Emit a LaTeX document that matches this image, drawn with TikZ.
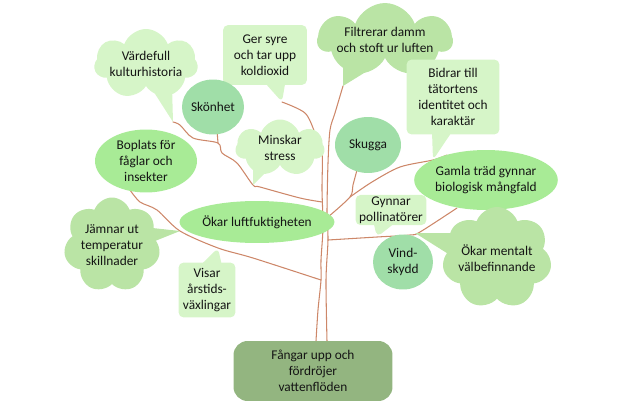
\documentclass[tikz,border=0pt]{standalone}
\usepackage{fontspec}
\setmainfont{Carlito}
\usepackage{tikz}
\usetikzlibrary{shapes.geometric,shapes.symbols,shapes.callouts,backgrounds,calc}

\definecolor{pale}{RGB}{214,245,200}
\definecolor{sage}{RGB}{186,228,165}
\definecolor{mint}{RGB}{160,222,168}
\definecolor{lime}{RGB}{168,235,150}
\definecolor{olive}{RGB}{147,181,128}
\definecolor{bark}{RGB}{205,135,105}
\definecolor{ink}{RGB}{20,20,20}

\begin{document}
\begin{tikzpicture}[x=0.02cm,y=-0.02cm,font=\fontsize{7.6}{9.1}\selectfont,text=ink,align=center]
	\tikzstyle{cloudbox}=[cloud,cloud puffs=7,cloud puff arc=140,cloud ignores aspect,fill=pale,draw=none,inner sep=0pt]
	\tikzstyle{notebox}=[rectangle callout,rounded corners=3pt,fill=pale,draw=none,callout pointer width=0.36cm,inner sep=1pt]
	\tikzstyle{disc}=[ellipse,fill=mint,draw=none,inner sep=0pt]
	\tikzstyle{oval}=[ellipse,fill=lime,draw=none,inner sep=0pt]
	\tikzstyle{limb}=[draw=bark,line width=0.6pt,line cap=round,line join=round]

	\useasboundingbox (0,0) rectangle (620,413);

	\coordinate (tv)  at (173,122);
	\coordinate (tg)  at (282,102);
	\coordinate (tm)  at (253,185);
	\coordinate (tf)  at (343,86);
	\coordinate (tb)  at (433,160);
	\coordinate (tp)  at (377,237);
	\coordinate (to)  at (415,233);
	\coordinate (tj)  at (180,231);
	\coordinate (tx)  at (218,248);

	\node[cloudbox,minimum width=1.82cm,minimum height=1.4cm]           (vard)  at (146,64)  {V\"ardefull\\kulturhistoria};
	\node[notebox,minimum width=1.68cm,minimum height=1.2cm,callout absolute pointer=(tg)] (ger) at (265,55) {Ger syre\\och tar upp\\koldioxid};
	\node[disc,minimum width=1.2cm,minimum height=1.1cm]                (skon)  at (213,107) {Sk\"onhet};
	\node[cloudbox,minimum width=1.78cm,minimum height=1.14cm]          (minsk) at (280,148) {Minskar\\stress};
	\node[oval,minimum width=2.04cm,minimum height=1.26cm]              (bopl)  at (146,161) {Boplats f\"or\\f\aa glar och\\insekter};
	\node[cloudbox,fill=sage,minimum width=2.6cm,minimum height=1.38cm] (filt)  at (385,40)  {Filtrerar damm\\och stoft ur luften};
	\node[notebox,minimum width=1.86cm,minimum height=1.5cm,callout absolute pointer=(tb)] (bidr) at (453,97) {Bidrar till\\t\"atortens\\identitet och\\karakt\"ar};
	\node[disc,minimum width=1.32cm,minimum height=1.12cm]              (skug)  at (368,145) {Skugga};
	\node[oval,minimum width=2.56cm,minimum height=1.2cm]               (gaml)  at (486,180) {Gamla tr\"ad gynnar\\biologisk m\aa ngfald};
	\node[notebox,minimum width=1.42cm,minimum height=0.58cm,callout absolute pointer=(tp)] (gynn) at (391,210) {Gynnar\\pollinat\"orer};
	\node[disc,minimum width=1.2cm,minimum height=1.1cm]                (vind)  at (403,262) {Vind-\\skydd};
	\node[cloudbox,fill=sage,minimum width=2.04cm,minimum height=2.04cm] (okm)  at (497,258) {\"Okar mentalt\\v\"albefinnande};
	\node[cloudbox,fill=sage,minimum width=1.88cm,minimum height=1.9cm] (jamn)  at (112,245) {J\"amnar ut\\temperatur\\skillnader};
	\node[oval,minimum width=2.44cm,minimum height=0.84cm]              (okl)   at (257,222) {\"Okar luftfuktigheten};
	\node[notebox,minimum width=1.14cm,minimum height=1.1cm,callout absolute pointer=(tx)] (visa) at (207,290) {Visar\\\aa rstids-\\v\"axlingar};
	\node[rectangle,rounded corners=8pt,fill=olive,minimum width=3.18cm,minimum height=1.2cm] (fang) at (313,371) {F\aa ngar upp och\\f\"ordr\"ojer\\vattenfl\"oden};

	\begin{scope}[on background layer]
		% trunk and branches
		\draw[limb] plot[smooth,tension=0.5] coordinates {(tf) (335,113) (330,130) (328,163) (327,213) (328,240) (326,280) (327,341)};
		\draw[limb] plot[smooth,tension=0.5] coordinates {(tg) (305,113) (315,133) (322,153) (322,190) (323,227) (321,260) (321,280) (318,310) (316,341)};
		\draw[limb] plot[smooth,tension=0.5] coordinates {(tv) (180,125) (193,138) (218,143) (222,153) (237,163) (tm) (260,187) (300,198) (322,202)};
		\draw[limb] plot[smooth,tension=0.5] coordinates {(217,130) (218,143)};
		\draw[limb] plot[smooth,tension=0.5] coordinates {(357,170) (353,185) (350,197) (328,217)};
		\draw[limb] plot[smooth,tension=0.5] coordinates {(447,155) (tb) (400,167) (372,182) (350,197)};
		\draw[limb] plot[smooth,tension=0.5] coordinates {(130,190) (140,202) (157,210) (tj) (tx) (253,258) (321,280)};
		\draw[limb] plot[smooth,tension=0.5] coordinates {(328,240) (tp) (410,235) (420,232) (457,208)};
		% cloud tails
		\fill[pale] ($(vard)+(4,22)$) -- ($(vard)+(26,22)$) -- (tv) -- cycle;
		\fill[pale] ($(minsk)+(-27,14)$) -- ($(minsk)+(-8,18)$) -- (tm) -- cycle;
		\fill[sage] ($(filt)+(-42,15)$) -- ($(filt)+(-8,25)$) -- (tf) -- cycle;
		\fill[sage] ($(jamn)+(31,-18)$) -- ($(jamn)+(38,-2)$) -- (tj) -- cycle;
		\fill[sage] ($(okm)+(-39,-25)$) -- ($(okm)+(-47,-3)$) -- (to) -- cycle;
	\end{scope}
\end{tikzpicture}
\end{document}
